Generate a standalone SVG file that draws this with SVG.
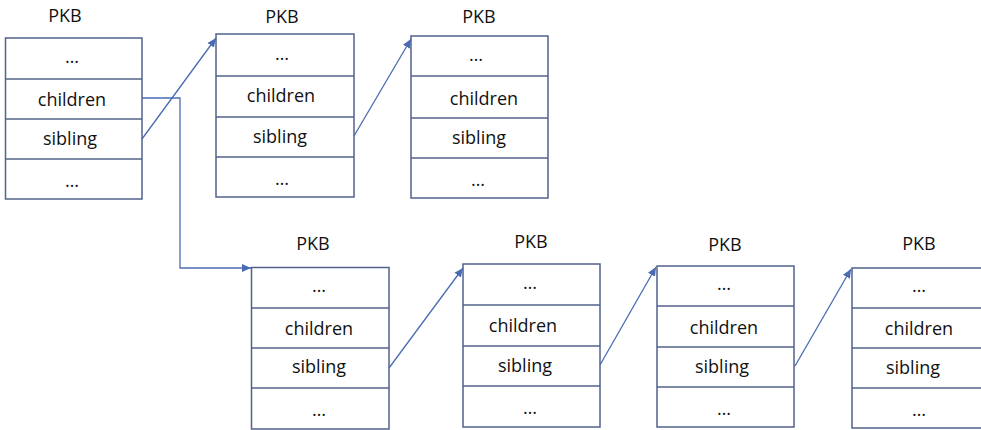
<svg xmlns="http://www.w3.org/2000/svg" width="981" height="430" viewBox="0 0 981 430">
<defs>
<style>
.box{fill:#fff;stroke:#52628a;stroke-width:1.5}
.sep{stroke:#52628a;stroke-width:1.5}
.t{font-family:"Open Sans","Liberation Sans",sans-serif;font-size:18px;fill:#111;text-anchor:middle}
.conn{fill:none;stroke:#4a6bb3;stroke-width:1.3}
</style>
<marker id="arr" markerUnits="userSpaceOnUse" markerWidth="10" markerHeight="10" viewBox="0 0 10 10" refX="9" refY="5" orient="auto">
<path d="M0,1 L9,5 L0,9 z" fill="#4a6bb3"/>
</marker>
</defs>
<rect width="981" height="430" fill="#fff"/>

<g id="pkb1">
<text class="t" x="65" y="22">PKB</text>
<rect class="box" x="5.5" y="38" width="136.5" height="161"/>
<line class="sep" x1="5.5" y1="79" x2="142" y2="79"/>
<line class="sep" x1="5.5" y1="119" x2="142" y2="119"/>
<line class="sep" x1="5.5" y1="159" x2="142" y2="159"/>
<text class="t" x="72" y="63">…</text>
<text class="t" x="72" y="105.5">children</text>
<text class="t" x="70" y="145">sibling</text>
<text class="t" x="72" y="187">…</text>
</g>

<g id="pkb2">
<text class="t" x="282" y="23">PKB</text>
<rect class="box" x="216" y="34" width="138" height="163"/>
<line class="sep" x1="216" y1="76" x2="354" y2="76"/>
<line class="sep" x1="216" y1="117" x2="354" y2="117"/>
<line class="sep" x1="216" y1="157" x2="354" y2="157"/>
<text class="t" x="282" y="60">…</text>
<text class="t" x="281" y="102">children</text>
<text class="t" x="280" y="143">sibling</text>
<text class="t" x="282" y="185">…</text>
</g>

<g id="pkb3">
<text class="t" x="479" y="23">PKB</text>
<rect class="box" x="411" y="36" width="137" height="162"/>
<line class="sep" x1="411" y1="76" x2="548" y2="76"/>
<line class="sep" x1="411" y1="118" x2="548" y2="118"/>
<line class="sep" x1="411" y1="158" x2="548" y2="158"/>
<text class="t" x="476" y="61">…</text>
<text class="t" x="484" y="105">children</text>
<text class="t" x="479" y="144">sibling</text>
<text class="t" x="478" y="186">…</text>
</g>

<g id="pkb4">
<text class="t" x="313" y="250">PKB</text>
<rect class="box" x="251.5" y="267.5" width="137.5" height="161.5"/>
<line class="sep" x1="251.5" y1="308" x2="389" y2="308"/>
<line class="sep" x1="251.5" y1="348" x2="389" y2="348"/>
<line class="sep" x1="251.5" y1="388" x2="389" y2="388"/>
<text class="t" x="319" y="292">…</text>
<text class="t" x="319" y="334.5">children</text>
<text class="t" x="319" y="373">sibling</text>
<text class="t" x="319" y="416">…</text>
</g>

<g id="pkb5">
<text class="t" x="531" y="248">PKB</text>
<rect class="box" x="463" y="264" width="137" height="163"/>
<line class="sep" x1="463" y1="305" x2="600" y2="305"/>
<line class="sep" x1="463" y1="346" x2="600" y2="346"/>
<line class="sep" x1="463" y1="386" x2="600" y2="386"/>
<text class="t" x="530" y="289">…</text>
<text class="t" x="523" y="332">children</text>
<text class="t" x="525" y="372">sibling</text>
<text class="t" x="530" y="414">…</text>
</g>

<g id="pkb6">
<text class="t" x="725" y="251">PKB</text>
<rect class="box" x="657" y="266" width="137" height="161"/>
<line class="sep" x1="657" y1="306" x2="794" y2="306"/>
<line class="sep" x1="657" y1="347" x2="794" y2="347"/>
<line class="sep" x1="657" y1="387" x2="794" y2="387"/>
<text class="t" x="724" y="290">…</text>
<text class="t" x="724" y="334">children</text>
<text class="t" x="722" y="373">sibling</text>
<text class="t" x="724" y="415">…</text>
</g>

<g id="pkb7">
<text class="t" x="919" y="250">PKB</text>
<rect class="box" x="852" y="268" width="137" height="160"/>
<line class="sep" x1="852" y1="308" x2="989" y2="308"/>
<line class="sep" x1="852" y1="348" x2="989" y2="348"/>
<line class="sep" x1="852" y1="388" x2="989" y2="388"/>
<text class="t" x="919" y="292">…</text>
<text class="t" x="919" y="335">children</text>
<text class="t" x="913" y="374">sibling</text>
<text class="t" x="919" y="416">…</text>
</g>

<g id="connectors">
<path class="conn" d="M142,98 H180 V268 H251" marker-end="url(#arr)"/>
<path class="conn" d="M142,139 L216,38" marker-end="url(#arr)"/>
<path class="conn" d="M354,136 L411,39" marker-end="url(#arr)"/>
<path class="conn" d="M389,368 L463,268" marker-end="url(#arr)"/>
<path class="conn" d="M600,365 L656,267" marker-end="url(#arr)"/>
<path class="conn" d="M795,366 L851,269" marker-end="url(#arr)"/>
</g>
</svg>
